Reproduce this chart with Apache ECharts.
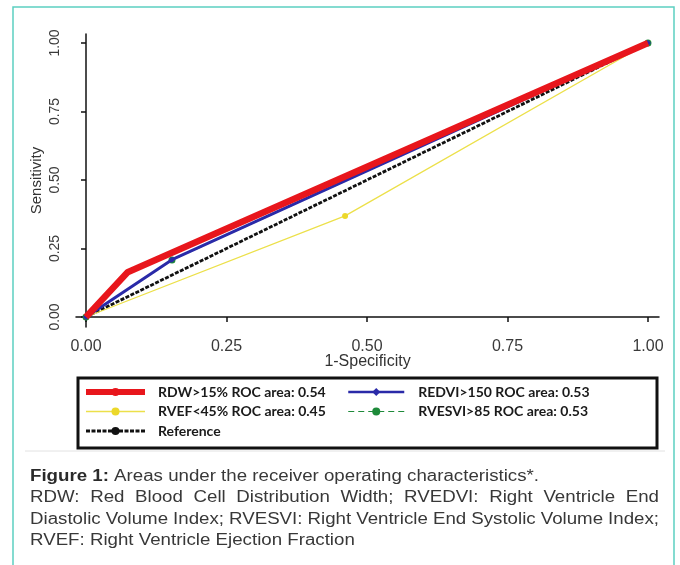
<!DOCTYPE html>
<html>
<head>
<meta charset="utf-8">
<script src="https://cdn.jsdelivr.net/npm/echarts@6/dist/echarts.min.js"></script>
<style>
html,body{margin:0;padding:0;background:#fff;}
#chart{width:680px;height:565px;}
</style>
</head>
<body>
<div id="chart"></div>
<script>
// ---- data ----
const seriesNames = ['RDW>15% ROC area: 0.54', 'REDVI>150 ROC area: 0.53', 'RVEF<45% ROC area: 0.45', 'RVESVI>85 ROC area: 0.53', 'Reference'];
const rdwFpr = [0, 0.074, 1];
const rdwSens = [0, 0.163, 1];
const redviFpr = [0, 0.153, 1];
const redviSens = [0, 0.209, 1];
const rvefFpr = [0, 0.461, 1];
const rvefSens = [0, 0.369, 1];
const rvesviFpr = [0, 0.153, 1];
const rvesviSens = [0, 0.208, 1];
const refFpr = [0, 1];
const refSens = [0, 1];
const tickValues = [0, 0.25, 0.5, 0.75, 1];
const xAxisTitle = '1-Specificity';
const yAxisTitle = 'Sensitivity';
const captionBold = 'Figure 1:';
const captionRest = ' Areas under the receiver operating characteristics*.';
const captionLine2 = 'RDW: Red Blood Cell Distribution Width; RVEDVI: Right Ventricle End';
const captionLine3 = 'Diastolic Volume Index; RVESVI: Right Ventricle End Systolic Volume Index;';
const captionLine4 = 'RVEF: Right Ventricle Ejection Fraction';

function pairs(xs, ys) { return xs.map((x, i) => [x, ys[i]]); }

// ---- caption layout (measure text) ----
const CFONT = "'Liberation Sans', Arial, sans-serif";
const CSIZE = 16;
const ctx = document.createElement('canvas').getContext('2d');
function tw(t, bold) { ctx.font = (bold ? 'bold ' : '') + CSIZE + 'px ' + CFONT; return ctx.measureText(t).width; }
const capLeft = 30, capRight = 659;
const s = 509 / (tw(captionBold, true) + tw(captionRest, false));
const capColor = '#383838';
const graphics = [];
graphics.push({ type: 'rect', shape: { x: 13, y: 7, width: 661, height: 600 }, style: { fill: null, stroke: '#5ccfc1', lineWidth: 1.5 }, silent: true });
graphics.push({ type: 'rect', shape: { x: 78, y: 378, width: 579, height: 70 }, style: { fill: null, stroke: '#111', lineWidth: 3 }, silent: true });
graphics.push({ type: 'line', shape: { x1: 25, y1: 451, x2: 665, y2: 451 }, style: { stroke: '#e2e2e2', lineWidth: 1 }, silent: true });
graphics.push({ type: 'text', x: capLeft, y: 477, scaleX: s, scaleY: 1, silent: true,
  style: { text: '{b|' + captionBold + '}' + captionRest, font: CSIZE + 'px ' + CFONT, fill: capColor, verticalAlign: 'middle', align: 'left',
    rich: { b: { fontWeight: 'bold', fontSize: CSIZE, fontFamily: CFONT, fill: '#2a2a2a' } } } });
function justified(line, y) {
  const words = line.split(' ');
  const widths = words.map(wd => tw(wd, false) * s);
  const total = widths.reduce((a, b) => a + b, 0);
  const gap = (capRight - capLeft - total) / (words.length - 1);
  let x = capLeft;
  words.forEach((wd, i) => {
    graphics.push({ type: 'text', x: x, y: y, scaleX: s, silent: true,
      style: { text: wd, font: CSIZE + 'px ' + CFONT, fill: capColor, verticalAlign: 'middle', align: 'left' } });
    x += widths[i] + gap;
  });
}
justified(captionLine2, 498);
justified(captionLine3, 520);
graphics.push({ type: 'text', x: capLeft, y: 541, scaleX: s, silent: true,
  style: { text: captionLine4, font: CSIZE + 'px ' + CFONT, fill: capColor, verticalAlign: 'middle', align: 'left' } });

const chart = echarts.init(document.getElementById('chart'), null, { renderer: 'canvas' });
const legendText = { fontFamily: 'Lato, "Open Sans", sans-serif', fontWeight: 'bold', fontSize: 14, color: '#1a1a1a', lineHeight: 14 };
chart.setOption({
  animation: false,
  backgroundColor: '#fff',
  grid: { left: 76, right: 21, top: 34, bottom: 238, containLabel: false },
  xAxis: {
    type: 'value', min: -0.0178, max: 1.0196,
    name: xAxisTitle, nameLocation: 'middle', nameGap: 27, nameMoveOverlap: false,
    nameTextStyle: { fontFamily: "'Liberation Sans', Arial", fontSize: 16, color: '#333' },
    axisLine: { lineStyle: { color: '#111', width: 1.5 } },
    axisTick: { customValues: tickValues, length: 5, lineStyle: { color: '#111', width: 1.5 } },
    axisLabel: { customValues: tickValues, margin: 12, fontFamily: "'Liberation Sans', Arial", fontSize: 16, color: '#3a3a3a', formatter: v => v.toFixed(2) },
    splitLine: { show: false }
  },
  yAxis: {
    type: 'value', min: -0.0365, max: 1.0328,
    name: yAxisTitle, nameLocation: 'middle', nameGap: 32, nameMoveOverlap: false,
    nameTextStyle: { fontFamily: "'Liberation Sans', Arial", fontSize: 15, color: '#333' },
    axisLine: { show: true, lineStyle: { color: '#111', width: 1.5 } },
    axisTick: { show: true, customValues: tickValues, length: 5, lineStyle: { color: '#111', width: 1.5 } },
    axisLabel: { customValues: tickValues, rotate: 90, margin: 14, fontFamily: "'Liberation Sans', Arial", fontSize: 14, color: '#3a3a3a', formatter: v => v.toFixed(2) },
    splitLine: { show: false }
  },
  legend: [
    { data: [
        { name: seriesNames[0], lineStyle: { width: 6 } },
        { name: seriesNames[2], lineStyle: { width: 1.5 } },
        { name: seriesNames[4], lineStyle: { width: 3 } }
      ], orient: 'vertical', left: 83, top: 385, padding: 0, itemWidth: 59, itemHeight: 10, itemGap: 5.5,
      selectedMode: false, textStyle: Object.assign({ padding: [0, 0, 0, 8] }, legendText) },
    { data: [
        { name: seriesNames[1], lineStyle: { width: 2.5 } },
        { name: seriesNames[3], lineStyle: { width: 1.2 } }
      ], orient: 'vertical', left: 347, top: 385, padding: 0, itemWidth: 56, itemHeight: 10, itemGap: 5.5,
      selectedMode: false, textStyle: Object.assign({ padding: [0, 0, 0, 9] }, legendText) }
  ],
  graphic: graphics,
  series: [
    { name: seriesNames[4], type: 'line', data: pairs(refFpr, refSens), z: 2, symbol: 'none',
      lineStyle: { color: '#111', width: 2.8, type: [4, 1.5] }, itemStyle: { color: '#111' } },
    { name: seriesNames[2], type: 'line', data: pairs(rvefFpr, rvefSens), z: 2, symbol: 'circle', symbolSize: 6,
      lineStyle: { color: '#ece04a', width: 1.3 }, itemStyle: { color: '#ecd82a' } },
    { name: seriesNames[3], type: 'line', data: pairs(rvesviFpr, rvesviSens), z: 2, symbol: 'circle', symbolSize: 7,
      lineStyle: { color: '#1e8a3a', width: 1.2, type: [6, 4] }, itemStyle: { color: '#1e8a3a' } },
    { name: seriesNames[1], type: 'line', data: pairs(redviFpr, redviSens), z: 3, symbol: 'diamond', symbolSize: 6,
      lineStyle: { color: '#2a2aa8', width: 3 }, itemStyle: { color: '#2a2aa8' } },
    { name: seriesNames[0], type: 'line', data: pairs(rdwFpr, rdwSens), z: 4, symbol: 'none',
      lineStyle: { color: '#e8161c', width: 6.5 }, itemStyle: { color: '#e8161c' } }
  ]
});
</script>
</body>
</html>
